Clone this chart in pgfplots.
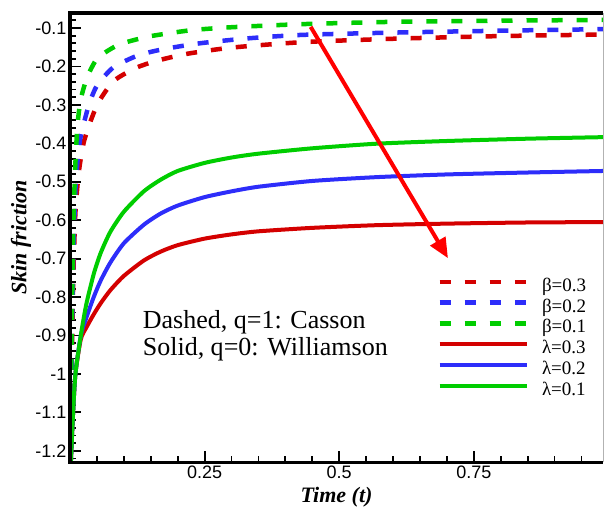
\documentclass[border=0pt]{standalone}
\usepackage{fontspec}
\setmainfont{Liberation Serif}
\newfontfamily\sansf{Liberation Sans}
\usepackage{pgfplots}
\pgfplotsset{compat=1.18}
\usetikzlibrary{arrows.meta}
\definecolor{myred}{RGB}{212,0,0}
\definecolor{myblue}{RGB}{45,45,250}
\definecolor{mygreen}{RGB}{0,205,0}
\definecolor{arrred}{RGB}{255,0,0}
\begin{document}
\begin{tikzpicture}
\begin{axis}[
  scale only axis, width=532.6pt, height=449pt,
  xmin=0, xmax=0.99, ymin=-1.23, ymax=-0.061,
  axis line style={draw=none},
  tick align=inside, xtick pos=bottom, ytick pos=left,
  xtick={0.25,0.5,0.75},
  minor xtick={0.05,0.1,0.15,0.2,0.3,0.35,0.4,0.45,0.55,0.6,0.65,0.7,0.8,0.85,0.9,0.95},
  ytick={-1.2,-1.1,-1,-0.9,-0.8,-0.7,-0.6,-0.5,-0.4,-0.3,-0.2,-0.1},
  minor ytick={-1.22,-1.18,-1.16,-1.14,-1.12,-1.08,-1.06,-1.04,-1.02,-0.98,-0.96,-0.94,-0.92,-0.88,-0.86,-0.84,-0.82,-0.78,-0.76,-0.74,-0.72,-0.68,-0.66,-0.64,-0.62,-0.58,-0.56,-0.54,-0.52,-0.48,-0.46,-0.44,-0.42,-0.38,-0.36,-0.34,-0.32,-0.28,-0.26,-0.24,-0.22,-0.18,-0.16,-0.14,-0.12,-0.08},
  major tick length=11pt, minor tick length=6pt,
  every tick/.style={black, line width=1.8pt},
  /pgf/number format/assume math mode=true,
  ticklabel style={font=\sansf\fontsize{18}{18}\selectfont},
  xlabel={\fontsize{22}{22}\selectfont\bfseries\itshape Time (t)},
  ylabel={\fontsize{22}{22}\selectfont\bfseries\itshape Skin friction},
  every axis x label/.style={at={(axis description cs:0.5,0)}, anchor=base, yshift=-40pt},
  every axis y label/.style={at={(axis description cs:-0.092,0.5)}, anchor=center, rotate=90},
  legend style={draw=none, fill=none, at={(axis description cs:0.689,0.41)}, anchor=north west,
    font=\fontsize{19}{20}\selectfont, row sep=3.8pt, column sep=13pt, inner sep=0pt,
    nodes={inner sep=0pt, text height=13pt, text depth=4pt}},
  legend cell align=left,
  legend image code/.code={\draw[#1] (0pt,5pt) -- (87pt,5pt);},
  dsh/.style={line width=4.5pt, dash pattern=on 11pt off 14pt},
  sld/.style={line width=4pt},
]
% beta = 0.3 (red dashed)
\addplot[myred, dsh, smooth, tension=0.4] coordinates {
(0.001,-1.25) (0.003,-1.0) (0.006,-0.75) (0.01,-0.58) (0.016,-0.478) (0.025,-0.4) (0.038,-0.343) (0.053,-0.293) (0.081,-0.238) (0.122,-0.204) (0.162,-0.185) (0.218,-0.167) (0.3,-0.151) (0.43,-0.137) (0.6,-0.128) (0.8,-0.121) (0.99,-0.117)};
\addlegendentry{β=0.3}
% beta = 0.2 (blue dashed)
\addplot[myblue, dsh, smooth, tension=0.4] coordinates {
(0.001,-1.25) (0.003,-0.95) (0.006,-0.7) (0.01,-0.52) (0.015,-0.43) (0.02,-0.38) (0.035,-0.3) (0.05,-0.25) (0.08,-0.203) (0.125,-0.172) (0.17,-0.156) (0.24,-0.14) (0.33,-0.127) (0.43,-0.118) (0.6,-0.112) (0.8,-0.107) (0.99,-0.103)};
\addlegendentry{β=0.2}
% beta = 0.1 (green dashed)
\addplot[mygreen, dsh, smooth, tension=0.4] coordinates {
(0.001,-1.25) (0.003,-0.9) (0.006,-0.62) (0.01,-0.45) (0.014,-0.35) (0.02,-0.285) (0.032,-0.227) (0.05,-0.18) (0.075,-0.155) (0.097,-0.14) (0.143,-0.123) (0.187,-0.113) (0.23,-0.105) (0.3,-0.098) (0.43,-0.09) (0.6,-0.084) (0.8,-0.081) (0.99,-0.079)};
\addlegendentry{β=0.1}
% lambda = 0.3 (red solid)
\addplot[myred, sld, smooth, tension=0.4] coordinates {
(0.001,-1.25) (0.005,-1.12) (0.01,-1.0) (0.02,-0.91) (0.03,-0.88) (0.044,-0.845) (0.057,-0.816) (0.075,-0.782) (0.1,-0.745) (0.137,-0.705) (0.168,-0.682) (0.2,-0.665) (0.25,-0.648) (0.3,-0.637) (0.35,-0.629) (0.45,-0.62) (0.57,-0.613) (0.7,-0.609) (0.85,-0.606) (0.99,-0.605)};
\addlegendentry{λ=0.3}
% lambda = 0.2 (blue solid)
\addplot[myblue, sld, smooth, tension=0.4] coordinates {
(0.001,-1.25) (0.005,-1.12) (0.01,-1.0) (0.02,-0.9) (0.03,-0.855) (0.044,-0.80) (0.057,-0.757) (0.075,-0.71) (0.1,-0.66) (0.137,-0.612) (0.168,-0.583) (0.2,-0.562) (0.25,-0.54) (0.3,-0.525) (0.35,-0.513) (0.45,-0.498) (0.57,-0.488) (0.7,-0.481) (0.85,-0.476) (0.99,-0.472)};
\addlegendentry{λ=0.2}
% lambda = 0.1 (green solid)
\addplot[mygreen, sld, smooth, tension=0.4] coordinates {
(0.001,-1.25) (0.005,-1.12) (0.01,-1.0) (0.02,-0.9) (0.03,-0.82) (0.044,-0.74) (0.057,-0.685) (0.075,-0.63) (0.1,-0.578) (0.137,-0.525) (0.168,-0.495) (0.2,-0.472) (0.25,-0.451) (0.3,-0.437) (0.35,-0.427) (0.45,-0.413) (0.57,-0.401) (0.7,-0.394) (0.85,-0.388) (0.99,-0.384)};
\addlegendentry{λ=0.1}
\draw[arrred, line width=4pt, -{Triangle[length=20pt,width=17pt]}] (axis cs:0.447,-0.097) -- (axis cs:0.702,-0.699);
\node[anchor=base west, font=\fontsize{26}{26}\selectfont, inner sep=0pt] at (axis cs:0.1348,-0.881) {Dashed, q=1: Casson};
\node[anchor=base west, font=\fontsize{26}{26}\selectfont, inner sep=0pt] at (axis cs:0.1348,-0.952) {Solid, q=0: Williamson};
\end{axis}
\draw[line width=3.5pt] (current axis.north east) -- (current axis.north west) -- (current axis.south west) -- (current axis.south east);
\draw[gray!60, line width=0.8pt] (current axis.south east) -- (current axis.north east);
\pgfresetboundingbox
\path ([shift={(-70pt,-44pt)}]current axis.south west) rectangle ([shift={(1pt,13pt)}]current axis.north east);
\end{tikzpicture}
\end{document}
